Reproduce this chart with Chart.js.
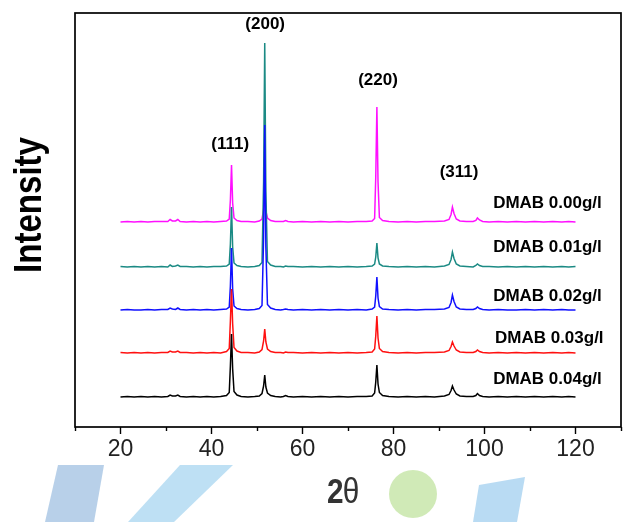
<!DOCTYPE html>
<html><head><meta charset="utf-8">
<script src="https://cdn.jsdelivr.net/npm/chart.js@4/dist/chart.umd.min.js"></script>
<style>html,body{margin:0;padding:0;background:#fff;}#wrap{width:644px;height:522px;}</style>
</head><body><div id="wrap"><canvas id="c" width="644" height="522"></canvas></div>
<script>
// 2-theta positions (degrees)
const twoTheta = [20,21.5,23,24.5,26,27.5,29,30.4,30.9,31.4,32.1,32.6,33.1,34.5,36,37.5,39,40.5,42,43.3,43.9,44.15,44.4,44.65,44.95,45.6,46.5,48,49.5,50.5,51.1,51.45,51.7,51.95,52.3,53.0,54.0,55.2,55.8,56.3,56.8,58,60,62,64,66,68,70,72,74,75.3,75.85,76.1,76.35,76.6,76.9,77.6,79,81,83,85,87,89,91.2,92.2,92.65,92.95,93.3,93.8,94.6,96,97.5,98.1,98.45,98.9,99.6,101,103,105,107,109,111,113,115,117,118.5,120];

// Intensity above each pattern's own baseline (arb. units)
const int000 = [0,0.5,0,0.5,0,0.5,0.5,0.5, 2.5,1,1,2.5,0.5, 0,0.5,0,0.5,0,0.5, 1,3,22,57,19,4,1.5, 0.5,0.5,0, 1,3,12,30,11,4,1.5, 0.5,0.5,0.5,1.5,0.5, 0,0.5,0,0.5,0,0.5,0,0.5,0.5, 1,3.5,45,115,40,4.5,1.5, 0.5,0,0.5,0,0.5,0.5, 1,2.5,7.5,15,8.5,3,1, 0.5,0.5,1.5,4,2,0.5, 0,0.5,0,0.5,0,0.5,0,0.5,0,0.5,0];
const int001 = [0.5,0,0.5,0,0.5,0,0.5,0, 2,0.5,1,2,0.5, 0.5,0,0.5,0,0.5,0.5, 1,3,23,60,20,4,1.5, 0.5,0,0.5, 1.5,4.5,85,224,75,5.5,2, 0.5,0.5,0,1,0.5, 0.5,0,0.5,0,0.5,0,0.5,0,0.5, 1,3,10,24,9,3,1, 0.5,0,0.5,0,0.5,0, 1,2.5,7.5,15,8.5,3,1, 0.5,0,1.5,3,1.5,0.5, 0.5,0,0.5,0,0.5,0,0.5,0,0.5,0,0.5];
const int002 = [0,0.5,0,0,0.5,0,0.5,0.5, 2,1,0.5,2,0.5, 0,0.5,0,0.5,0,0.5, 1,3,24,62,21,4,1.5, 0.5,0,0.5, 1.5,4.5,72,185,63,5.5,2, 0.5,0,0.5,1,0.5, 0,0.5,0,0.5,0,0.5,0,0.5,0, 1,3,14,33,12,3.5,1, 0.5,0,0.5,0,0.5,0.5, 1,2.5,7.5,15,8.5,3,1, 0.5,0.5,1.5,3,1.5,0.5, 0,0.5,0,0,0.5,0,0.5,0,0.5,0,0];
const int003 = [0.5,0,0.5,0,0.5,0,0.5,0.5, 2,1,1,2,0.5, 0.5,0,0.5,0,0.5,0, 1.5,4.5,32,64,29,5.5,2, 0.5,0.5,0, 1,3.5,12,24,11,4,1.5, 0.5,0.5,0,1,0.5, 0.5,0,0.5,0,0.5,0,0.5,0,0.5, 1,4,17,37,15,4.5,1.5, 0.5,0,0.5,0,0.5,0.5, 1,2.5,6.5,11,7,3,1, 0.5,0.5,1.5,3,1.5,0.5, 0,0.5,0,0.5,0,0.5,0,0.5,0,0.5,0];
const int004 = [0,0.5,0,0.5,0,0.5,0,0.5, 2,1,1,2,0.5, 0,0.5,0,0.5,0,0.5, 1.5,4.5,31,63,28,5.5,2, 0.5,0,0.5, 1,3.5,11,22,10,4,1.5, 0.5,0,0.5,1.5,0.5, 0,0.5,0,0.5,0,0.5,0,0.5,0.5, 1,4,15,32,13,4.5,1.5, 0.5,0,0.5,0,0.5,0, 1,2.5,6.5,11,7,3,1, 0.5,0.5,1.5,3.5,1.5,0.5, 0,0.5,0,0.5,0,0.5,0,0.5,0,0.5,0];

// stacking order: bottom pattern first (drawn on top)
const seriesNames = ['DMAB 0.04g/l','DMAB 0.03g/l','DMAB 0.02g/l','DMAB 0.01g/l','DMAB 0.00g/l'];
const seriesValues = [int004, int003, int002, int001, int000];
const seriesOffsets = [30, 74, 117, 160, 205];
const seriesColors = ['#000000','#ff1010','#1010ff','#1b8a84','#ff10ff'];

const peakNames = ['(111)','(200)','(220)','(311)'];
const xMajorTicks = [20,40,60,80,100,120];
const xMinorTicks = [10,30,50,70,90,110,130];

// annotation anchors (data coordinates)
const peakLabelAnchors = [{x:44.1,y:283},{x:51.8,y:403},{x:76.6,y:347},{x:94.4,y:255}];
const seriesLabelAnchors = [{x:101.9,y:48},{x:102.3,y:89},{x:101.9,y:131},{x:101.9,y:180},{x:101.9,y:224}];

const datasets = seriesValues.map((vals, i) => ({
  label: seriesNames[i],
  data: twoTheta.map((t, j) => ({x: t, y: vals[j] + seriesOffsets[i]})),
  borderColor: seriesColors[i],
  borderWidth: 1.5,
  pointRadius: 0,
  tension: 0,
  fill: false
}));

const FONT = "'Liberation Sans', Arial, Helvetica, sans-serif";
Chart.defaults.font.family = FONT;

const decor = {
  id: 'decor',
  afterDraw(chart) {
    const ctx = chart.ctx, a = chart.chartArea;
    const xs = chart.scales.x, ys = chart.scales.y;
    ctx.save();
    // watermark shapes
    ctx.fillStyle = 'rgba(160,192,225,0.75)';
    ctx.beginPath(); ctx.moveTo(58,465); ctx.lineTo(104,465); ctx.lineTo(94,522); ctx.lineTo(45,522); ctx.closePath(); ctx.fill();
    ctx.fillStyle = 'rgba(168,214,240,0.75)';
    ctx.beginPath(); ctx.moveTo(180,465); ctx.lineTo(233,465); ctx.lineTo(174,522); ctx.lineTo(128,522); ctx.closePath(); ctx.fill();
    ctx.fillStyle = 'rgba(200,230,170,0.85)';
    ctx.beginPath(); ctx.arc(413,494,24,0,Math.PI*2); ctx.fill();
    ctx.fillStyle = 'rgba(168,210,240,0.8)';
    ctx.beginPath(); ctx.moveTo(479,485); ctx.lineTo(525,477); ctx.lineTo(517,522); ctx.lineTo(473,522); ctx.closePath(); ctx.fill();

    // frame
    ctx.strokeStyle = '#000'; ctx.lineWidth = 1.7;
    ctx.strokeRect(a.left, a.top, a.right - a.left, a.bottom - a.top);
    // minor ticks
    ctx.lineWidth = 1.4;
    xMinorTicks.forEach(v => {
      const px = Math.round(xs.getPixelForValue(v)) + 0.5;
      ctx.beginPath(); ctx.moveTo(px, a.bottom); ctx.lineTo(px, a.bottom + 4); ctx.stroke();
    });
    // peak labels
    ctx.fillStyle = '#000';
    ctx.font = 'bold 17px ' + FONT;
    ctx.textAlign = 'center'; ctx.textBaseline = 'middle';
    peakNames.forEach((t, i) => {
      ctx.fillText(t, xs.getPixelForValue(peakLabelAnchors[i].x), ys.getPixelForValue(peakLabelAnchors[i].y));
    });
    // series labels
    ctx.textAlign = 'left';
    seriesNames.forEach((t, i) => {
      ctx.fillText(t, xs.getPixelForValue(seriesLabelAnchors[i].x), ys.getPixelForValue(seriesLabelAnchors[i].y));
    });
    // y title
    ctx.save();
    ctx.translate(41, (a.top + a.bottom) / 2 - 15);
    ctx.rotate(-Math.PI / 2);
    ctx.scale(0.87, 1);
    ctx.font = 'bold 38px ' + FONT;
    ctx.textAlign = 'center'; ctx.textBaseline = 'alphabetic';
    ctx.fillText('Intensity', 0, 0);
    ctx.restore();
    // x title
    ctx.save();
    ctx.translate(327, 503);
    ctx.scale(0.85, 1);
    ctx.fillStyle = '#333';
    ctx.textAlign = 'left'; ctx.textBaseline = 'alphabetic';
    ctx.font = 'bold 35px ' + FONT;
    ctx.fillText('2', 0, 0);
    const w2 = ctx.measureText('2').width;
    ctx.font = '35px ' + FONT;
    ctx.fillText('θ', w2 - 1, 0);
    ctx.restore();
    ctx.restore();
  }
};

new Chart(document.getElementById('c'), {
  type: 'line',
  data: { datasets },
  options: {
    responsive: false,
    animation: false,
    devicePixelRatio: 1,
    layout: { padding: { left: 75, right: 23, top: 13, bottom: 0 } },
    plugins: { legend: { display: false }, tooltip: { enabled: false } },
    scales: {
      x: {
        type: 'linear', position: 'bottom', min: 10, max: 130,
        afterBuildTicks: s => { s.ticks = xMajorTicks.map(v => ({ value: v })); },
        afterFit: s => { s.height = 95; },
        ticks: { font: { size: 23 }, color: '#222', padding: 2, maxRotation: 0, autoSkip: false },
        grid: { drawOnChartArea: false, drawTicks: true, tickLength: 7, tickWidth: 1.4, tickColor: '#000' },
        border: { display: false }
      },
      y: { type: 'linear', min: 0, max: 414, display: false }
    }
  },
  plugins: [decor]
});
</script></body></html>
